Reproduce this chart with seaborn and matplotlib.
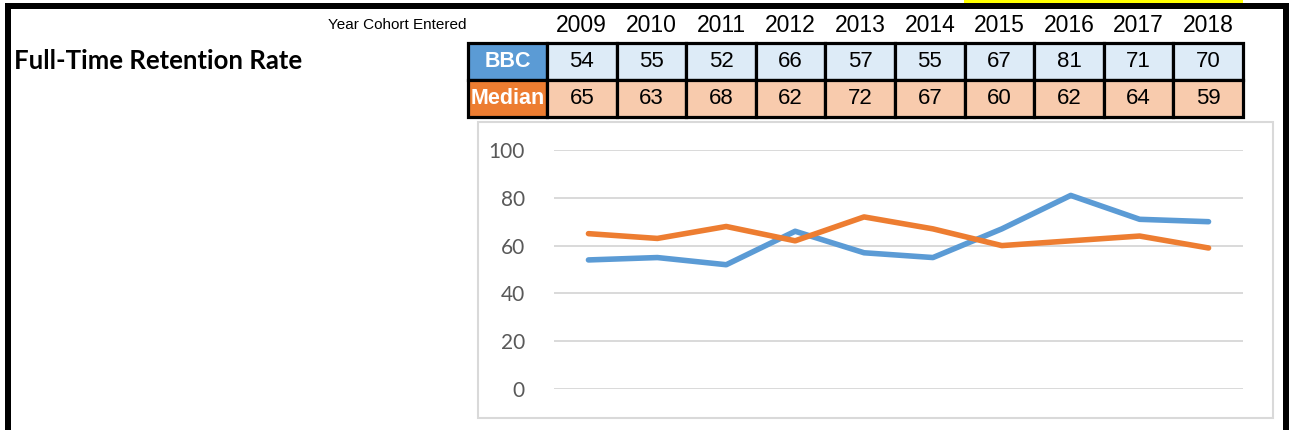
import pandas as pd
import seaborn as sns
import matplotlib.pyplot as plt
from matplotlib.patches import Rectangle

years = ["2009", "2010", "2011", "2012", "2013", "2014", "2015", "2016", "2017", "2018"]
bbc = [54, 55, 52, 66, 57, 55, 67, 81, 71, 70]
median = [65, 63, 68, 62, 72, 67, 60, 62, 64, 59]
series_names = ["BBC", "Median"]
yticks = [0, 20, 40, 60, 80, 100]

blue = "#5B9BD5"
orange = "#ED7D31"
light = {"BBC": "#DDEBF7", "Median": "#F8CBAD"}
dark = {"BBC": blue, "Median": orange}

df = pd.DataFrame({"year": years * 2,
                   "value": bbc + median,
                   "series": ["BBC"] * len(years) + ["Median"] * len(years)})

sns.set_theme(style="white")
narrow = ["Liberation Sans", "DejaVu Sans"]

W, H = 1289, 430
fig = plt.figure(figsize=(W / 100, H / 100), dpi=100)

# overlay in pixel coords for frame, table and titles
ov = fig.add_axes([0, 0, 1, 1])
ov.set_xlim(0, W)
ov.set_ylim(H, 0)
ov.axis("off")

ov.add_patch(Rectangle((964, 0), 1243 - 964, 3.5, color="#FFFF00", lw=0))
ov.add_patch(Rectangle((5, 3), W - 5, 6, color="black", lw=0))
ov.add_patch(Rectangle((5, 3), 6, H, color="black", lw=0))
ov.add_patch(Rectangle((1283, 3), 6, H, color="black", lw=0))

ov.text(14, 61, "Full-Time Retention Rate", fontsize=18.5, fontweight="bold",
        family=["Lato", "DejaVu Sans"], va="center", ha="left", color="black")
ov.text(467, 25, "Year Cohort Entered", fontsize=11, family=narrow,
        va="center", ha="right", color="black")

# table
left, label_w, right = 468, 79, 1243
col_w = (right - left - label_w) / len(years)
row_top = [43, 80]
row_h = 37
for i, y in enumerate(years):
    cx = left + label_w + col_w * (i + 0.5)
    ov.text(cx, 26, y, fontsize=16.5, family=narrow, ha="center", va="center", color="black")
for r, (name, vals) in enumerate(zip(series_names, [bbc, median])):
    top = row_top[r]
    ov.add_patch(Rectangle((left, top), label_w, row_h, facecolor=dark[name],
                           edgecolor="black", lw=2.3))
    ov.text(left + label_w / 2, top + row_h / 2, name, fontsize=15.5, fontweight="bold",
            family=narrow, color="white", ha="center", va="center")
    for i, v in enumerate(vals):
        x0 = left + label_w + col_w * i
        ov.add_patch(Rectangle((x0, top), col_w, row_h, facecolor=light[name],
                               edgecolor="black", lw=2.3))
        ov.text(x0 + col_w / 2, top + row_h / 2, str(v), fontsize=16, family=narrow,
                color="black", ha="center", va="center")

# chart box
ov.add_patch(Rectangle((478, 122), 1273 - 478, 418 - 122, facecolor="white",
                       edgecolor="#D9D9D9", lw=1.5, zorder=0))

ax = fig.add_axes([554 / W, 1 - 389 / H, (1243 - 554) / W, (389 - 150) / H])
ax.patch.set_alpha(0)
sns.lineplot(data=df, x="year", y="value", hue="series", palette=dark,
             linewidth=4, legend=False, ax=ax, sort=False)
ax.set_ylim(0, 100)
ax.set_xlim(-0.5, len(years) - 0.5)
ax.set_yticks(yticks)
ax.set_xticks([])
ax.set_xlabel("")
ax.set_ylabel("")
ax.grid(axis="y", color="#D9D9D9", lw=1.4)
ax.set_axisbelow(True)
for s in ax.spines.values():
    s.set_visible(False)
ax.tick_params(axis="y", length=0, pad=21, labelsize=15, labelcolor="#595959")
for lab in ax.get_yticklabels():
    lab.set_family(["Lato", "DejaVu Sans"])
for ln in ax.lines:
    ln.set_solid_capstyle("round")
    ln.set_clip_on(False)

fig.savefig("out.png", dpi=100)
